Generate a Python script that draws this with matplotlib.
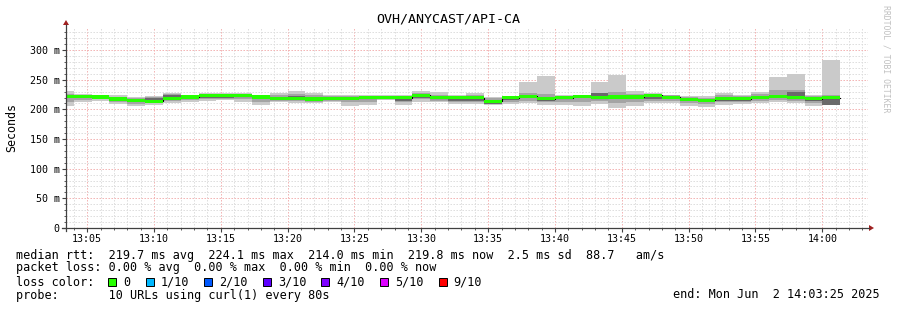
import numpy as np
import matplotlib.pyplot as plt
from matplotlib.lines import Line2D
from matplotlib.patches import Rectangle, Polygon

W, H = 897, 310
mono = 'DejaVu Sans Mono'

title = 'OVH/ANYCAST/API-CA'

# one value every 80 s, first step ends at 13:04:00 (minutes after 13:00)
step_min = 80 / 60
first_end = 4.0

# median rtt per step (ms)
median = [222, 222.5, 221, 217.5, 215.5, 214, 219, 221, 223.5, 223.5, 223,
          221, 218.5, 218.5, 217.5, 218.5, 218.5, 220, 219.5, 220, 223.5, 219.5,
          220, 220, 214, 219.5, 222, 218, 220, 222.5, 220, 221, 221, 223.5,
          220.5, 217, 215.5, 218, 218, 220.5, 222.5, 219.5, 218, 219.5]
# smoke: outer pings (1st / 10th)
smoke_lo = [206, 212, 215, 209, 206, 207.5, 210, 213, 214, 216, 213,
            207.5, 213, 210, 210, 213, 206, 207.5, 216, 207.5, 213, 213,
            208.5, 208.5, 207.5, 208.5, 210, 207.5, 207.5, 206, 208.5, 203, 206, 210,
            210, 206, 204.7, 207.5, 208.5, 210, 213, 210, 206, 207.5]
smoke_hi = [231, 226, 225, 224, 221, 223, 228, 224, 227, 227, 228,
            225, 227, 231, 228, 225, 224, 225, 224, 224, 231, 230,
            225, 227, 221, 223, 247, 256, 225, 225, 247, 258, 231, 227,
            225, 223, 223, 228, 225, 230, 255, 260, 225, 283]
# second ring of pings
mid_lo = [212, 216, 217, 212, 209, 210, 214, 216, 218, 218, 217,
          213, 215, 214, 213, 215, 212, 213, 217, 212, 217, 215,
          213, 213, 209, 213, 214, 212, 212, 212, 214, 210, 212, 215,
          214, 211, 209, 212, 212, 214, 216, 215, 211, 210]
mid_hi = [226, 225, 224, 221, 219, 221, 226, 223, 226, 226, 226,
          224, 224, 226, 224, 223, 222, 223, 222, 223, 228, 225,
          223, 224, 219, 222, 228, 226, 223, 224, 228, 230, 226, 226,
          224, 221, 220, 225, 223, 226, 232, 232, 223, 224]
# inner pings
core_lo = [219, 220, 219, 215, 213, 212, 217, 219, 220, 219, 221,
           218, 216, 217, 215, 216, 216, 218, 218, 215, 219, 217,
           215, 215, 209, 216, 219, 215, 217, 219, 219, 218, 218, 217,
           218, 214, 212, 215, 215, 218, 219, 218, 215, 208]
core_hi = [224, 224, 223, 219, 217, 220, 225, 223, 226, 224, 225,
           223, 221, 223, 220, 221, 221, 222, 221, 221, 225, 222,
           221, 221, 215, 221, 224, 221, 222, 224, 227, 224, 223, 224,
           223, 219, 218, 221, 221, 223, 225, 230, 221, 221]

x_ticks = [5, 10, 15, 20, 25, 30, 35, 40, 45, 50, 55, 60]
x_labels = ['13:05', '13:10', '13:15', '13:20', '13:25', '13:30',
            '13:35', '13:40', '13:45', '13:50', '13:55', '14:00']
y_ticks = [0, 50, 100, 150, 200, 250, 300]
y_labels = ['0', '50 m', '100 m', '150 m', '200 m', '250 m', '300 m']

rtt_stats = ['219.7 ms avg', '224.1 ms max', '214.0 ms min', '219.8 ms now',
             '2.5 ms sd', '88.7   am/s']
loss_stats = ['0.00 % avg', '0.00 % max', '0.00 % min', '0.00 % now']
loss_labels = ['0', '1/10', '2/10', '3/10', '4/10', '5/10', '9/10']
loss_colors = ['#26ff00', '#00b8ff', '#0059ff', '#5e00ff', '#7e00ff',
               '#dd00ff', '#ff0000']
probe_text = '10 URLs using curl(1) every 80s'
end_text = 'end: Mon Jun  2 14:03:25 2025'


def fx(x):
    return x / W


def fy(y):
    return 1 - y / H


fig = plt.figure(figsize=(W / 100, H / 100), dpi=100)
fig.patch.set_facecolor('white')
ax = fig.add_axes([fx(66), fy(228), (868 - 66) / W, (228 - 27) / H])
ax.set_xlim(3 + 25 / 60, 63 + 25 / 60)
ax.set_ylim(0, 339)
for s in ax.spines.values():
    s.set_visible(False)

n = len(median)
edges = first_end - step_min + np.arange(n + 1) * step_min


def ext(a):
    a = np.asarray(a, dtype=float)
    return np.append(a, a[-1])


bands = [(smoke_lo, smoke_hi, '#cacaca'),
         (mid_lo, mid_hi, '#a4a4a4'),
         (core_lo, core_hi, '#6a6a6a')]
for lo, hi, col in bands:
    ax.fill_between(edges, ext(lo), ext(hi), step='post', color=col,
                    linewidth=0, zorder=2)

med = ext(median)
ax.step(edges, med, where='post', color='black', lw=0.8, zorder=3)
ax.fill_between(edges, med - 2.6, med + 2.6, step='post', color=loss_colors[0],
                linewidth=0, zorder=4)

# grid
ax.set_xticks(x_ticks, x_labels)
ax.set_xticks([m for m in range(4, 64) if m % 5], minor=True)
ax.set_yticks(y_ticks, y_labels)
ax.set_yticks([v for v in range(10, 340, 10) if v % 50], minor=True)
ax.set_axisbelow(True)
dots = (0, (1.4, 1.6))
ax.grid(which='minor', color='#dcdcdc', ls=dots, lw=0.72)
ax.grid(which='major', color='#f2b0b0', ls=dots, lw=0.72)
ax.tick_params(which='major', length=3, width=0.8, color='#404040', pad=1.5,
               labelsize=7.2, labelfontfamily=mono)
ax.tick_params(which='minor', length=1.5, width=0.6, color='#404040')

# axes with arrows
axis_col = '#404040'
arrow_col = '#a02020'
fig.add_artist(Line2D([fx(66), fx(66)], [fy(231), fy(25)], color=axis_col, lw=0.9))
fig.add_artist(Line2D([fx(62), fx(869)], [fy(228), fy(228)], color=axis_col, lw=0.9))
fig.add_artist(Polygon([(fx(63), fy(25)), (fx(69), fy(25)), (fx(66), fy(20))],
                       closed=True, color=arrow_col, lw=0))
fig.add_artist(Polygon([(fx(869), fy(225)), (fx(869), fy(231)), (fx(874), fy(228))],
                       closed=True, color=arrow_col, lw=0))

fig.text(fx(448), fy(19), title, ha='center', va='center', fontsize=9.6,
         family=mono)
fig.text(fx(12), fy(127), 'Seconds', rotation=90, ha='center', va='center',
         fontsize=8.4, family=mono)
fig.text(fx(886), fy(5), 'RRDTOOL / TOBI OETIKER', rotation=270, ha='center',
         va='top', fontsize=5.9, family=mono, color='#c0c0c0')

# legend
fs = 8.5
cw = 7.1
fig.text(fx(16), fy(255), 'median rtt:  ' + '  '.join(rtt_stats),
         ha='left', va='center', fontsize=fs, family=mono)
fig.text(fx(16), fy(268), 'packet loss: ' + '  '.join(loss_stats),
         ha='left', va='center', fontsize=fs, family=mono)
fig.text(fx(16), fy(282), 'loss color:', ha='left', va='center', fontsize=fs,
         family=mono)
bx = 108.3
for lab, col in zip(loss_labels, loss_colors):
    fig.add_artist(Rectangle((fx(bx), fy(286)), 8 / W, 8 / H,
                             facecolor=col, edgecolor='black', lw=0.7))
    tx = bx + 15
    fig.text(fx(tx), fy(282), lab, ha='left', va='center', fontsize=fs,
             family=mono)
    bx = tx + (len(lab) + 2) * cw + 1
fig.text(fx(16), fy(296), 'probe:       ' + probe_text, ha='left',
         va='center', fontsize=fs, family=mono)
fig.text(fx(880), fy(295), end_text, ha='right', va='center', fontsize=fs,
         family=mono)

fig.savefig('out.png', dpi=100)
